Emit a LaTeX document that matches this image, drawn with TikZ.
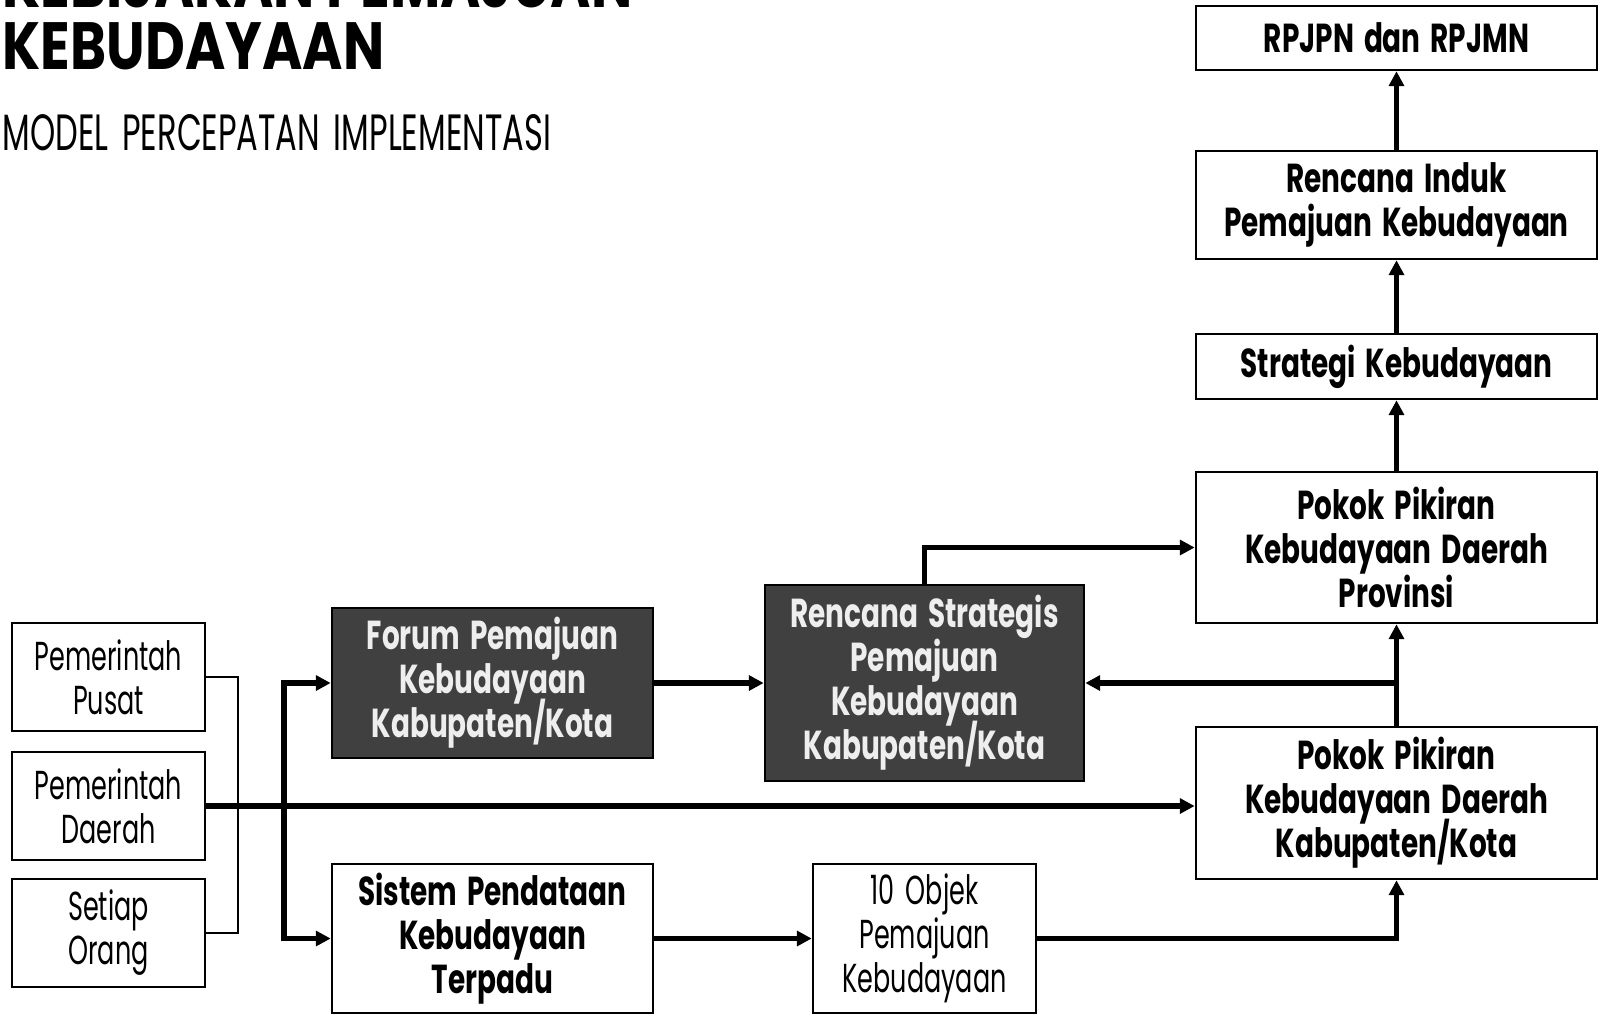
\documentclass[tikz,border=0pt]{standalone}
\usepackage{fontspec}
\setmainfont{Poppins}
\newfontfamily\condfont[FakeStretch=0.69,WordSpace=1.7]{Poppins}
\newfontfamily\narrowfont[FakeStretch=0.63,WordSpace=1.6]{Poppins}
\newfontfamily\titlefont[FakeStretch=0.82]{Poppins}
\usetikzlibrary{positioning,arrows.meta}

\definecolor{boxgray}{HTML}{404040}
\definecolor{lighttext}{HTML}{EEEEEE}
\newcommand\tightlines{\lineskiplimit=-20pt\relax}

\tikzset{
    box/.style={draw, line width=0.7pt, align=center, inner sep=0pt,
        font={\condfont\bfseries\fontsize{11.5}{12.5}\selectfont\tightlines}},
    plainbox/.style={box, font={\narrowfont\fontsize{11.5}{12.5}\selectfont\tightlines}},
    darkbox/.style={box, fill=boxgray, text=lighttext},
    conn/.style={line width=1.6pt, -{Triangle[length=4.2pt,width=4.2pt]}},
    bracket/.style={line width=0.6pt}
}

\begin{document}
\begin{tikzpicture}[x=0.01cm, y=-0.01cm]
    \useasboundingbox (0,0) rectangle (1599,1014);
    \clip (0,0) rectangle (1599,1014);

    % judul
    \node [anchor=base west, inner sep=0pt, font=\titlefont\bfseries\fontsize{19}{19}\selectfont] (head1) at (2,7) {KEBIJAKAN PEMAJUAN};
    \node [anchor=base west, inner sep=0pt, font=\titlefont\bfseries\fontsize{19}{19}\selectfont] (head2) at (2,69) {KEBUDAYAAN};
    \node [anchor=base west, inner sep=0pt, font=\narrowfont\fontsize{14.5}{14.5}\selectfont] (subhead) at (2,150) {MODEL PERCEPATAN IMPLEMENTASI};

    % pelaku
    \node [plainbox, minimum width=1.93cm, minimum height=1.08cm] (pusat) at (108.5,677) {Pemerintah\\Pusat};
    \node [plainbox, minimum width=1.93cm, minimum height=1.08cm] (daerah) at (108.5,806) {Pemerintah\\Daerah};
    \node [plainbox, minimum width=1.93cm, minimum height=1.08cm] (setiap) at (108.5,933) {Setiap\\Orang};

    % tengah
    \node [darkbox, minimum width=3.21cm, minimum height=1.50cm] (forum) at (492.5,683) {Forum Pemajuan\\Kebudayaan\\Kabupaten/Kota};
    \node [box, minimum width=3.21cm, minimum height=1.49cm] (sistem) at (492.5,938.5) {Sistem Pendataan\\Kebudayaan\\Terpadu};
    \node [darkbox, minimum width=3.19cm, minimum height=1.96cm] (renstra) at (924.5,683) {Rencana Strategis\\Pemajuan\\Kebudayaan\\Kabupaten/Kota};
    \node [plainbox, minimum width=2.23cm, minimum height=1.49cm] (objek) at (924.5,938.5) {10 Objek\\Pemajuan\\Kebudayaan};

    % kolom kanan
    \node [box, minimum width=4.01cm, minimum height=0.64cm] (rpjpn) at (1396.5,38) {RPJPN dan RPJMN};
    \node [box, minimum width=4.01cm, minimum height=1.08cm] (induk) at (1396.5,205) {Rencana Induk\\Pemajuan Kebudayaan};
    \node [box, minimum width=4.01cm, minimum height=0.65cm] (strategi) at (1396.5,366.5) {Strategi Kebudayaan};
    \node [box, minimum width=4.01cm, minimum height=1.51cm] (pokprov) at (1396.5,547.5) {Pokok Pikiran\\Kebudayaan Daerah\\Provinsi};
    \node [box, minimum width=4.01cm, minimum height=1.52cm] (pokkab) at (1396.5,803) {Pokok Pikiran\\Kebudayaan Daerah\\Kabupaten/Kota};

    % penghubung
    \draw [bracket] (pusat.east) -- ++(32,0) |- (setiap.east);
    \draw [conn] (daerah.east) -- (daerah.east -| pokkab.west);
    \coordinate (hub) at (284,806);
    \draw [conn] (hub) |- (forum.west);
    \draw [conn] (hub) |- (sistem.west);
    \draw [conn] (forum.east) -- (renstra.west);
    \draw [conn] (sistem.east) -- (objek.west);
    \draw [conn] (objek.east) -| (pokkab.south);
    \draw [conn] (renstra.north) |- (pokprov.west);
    \draw [conn] (pokkab.north) -- (pokprov.south);
    \draw [conn] (pokkab.north |- renstra.east) -- (renstra.east);
    \draw [conn] (pokprov.north) -- (strategi.south);
    \draw [conn] (strategi.north) -- (induk.south);
    \draw [conn] (induk.north) -- (rpjpn.south);
\end{tikzpicture}
\end{document}
